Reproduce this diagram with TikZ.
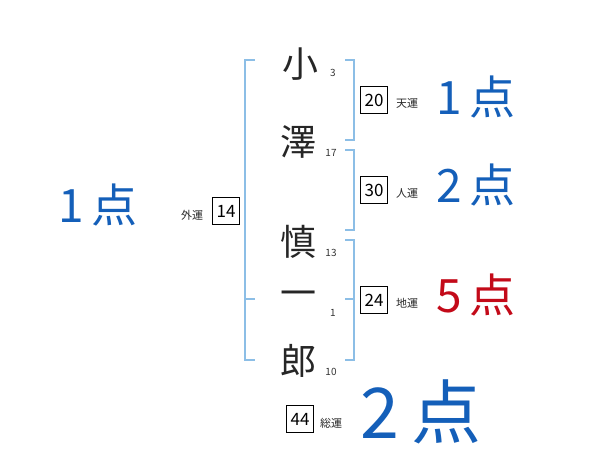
\documentclass[tikz,border=0pt]{standalone}
\usepackage{fontspec}
\newfontfamily\jp{Noto Sans CJK JP}
\definecolor{tenblue}{RGB}{20,95,185}
\definecolor{tenred}{RGB}{195,10,25}
\definecolor{kakkoiro}{RGB}{140,190,230}

\begin{document}
\begin{tikzpicture}[x=1pt,y=-1pt,
  moji/.style={font=\jp\fontsize{36}{36}\selectfont,text=black!85,inner sep=0pt},
  kaku/.style={font=\jp\fontsize{10}{10}\selectfont,text=black!80,inner sep=0pt},
  unbox/.style={draw,line width=0.8pt,font=\jp\fontsize{17}{17}\selectfont,minimum size=27pt,inner sep=0pt},
  unmei/.style={font=\jp\fontsize{11}{11}\selectfont,text=black!85,inner sep=0pt},
  ten/.style={font=\jp\fontsize{46}{46}\selectfont,text=tenblue,inner sep=0pt},
  kakko/.style={kakkoiro,line width=1.5pt}]
  \useasboundingbox (0,0) rectangle (600,470);

  %名前
  \node[moji] (c1) at (300,64) {小};
  \node[moji] (c2) at (298,142) {澤};
  \node[moji] (c3) at (298,242) {慎};
  \node[moji] (c4) at (298,299) {一};
  \node[moji] (c5) at (298,361) {郎};

  %画数
  \node[kaku] (k1) at (333,73) {3};
  \node[kaku] (k2) at (331,153) {17};
  \node[kaku] (k3) at (331,253) {13};
  \node[kaku] (k4) at (333,313) {1};
  \node[kaku] (k5) at (331,372) {10};

  %括弧(外運)
  \draw[kakko] (255,60) -- (245,60) -- (245,360) -- (255,360);
  \draw[kakko] (245,299) -- (255,299);

  %括弧(天運・人運・地運)
  \draw[kakko] (345,60) -- (354,60) -- (354,140) -- (345,140);
  \draw[kakko] (345,150) -- (354,150) -- (354,230) -- (345,230);
  \draw[kakko] (345,240) -- (354,240) -- (354,360) -- (345,360);
  \draw[kakko] (345,299) -- (354,299);

  %運の数
  \node[unbox] (ten) at (374,100) {20};
  \node[unmei] at (407,103) {天運};
  \node[unbox] (jin) at (374,190) {30};
  \node[unmei] at (407,193) {人運};
  \node[unbox] (chi) at (374,300) {24};
  \node[unmei] at (407,303) {地運};
  \node[unbox] (gai) at (226,211) {14};
  \node[unmei] at (192,215) {外運};
  \node[unbox] (sou) at (300,419) {44};
  \node[unmei] at (331,423) {総運};

  %点数
  \node[ten] (p1) at (476,97) {1\,点};
  \node[ten] (p2) at (476,185) {2\,点};
  \node[ten,text=tenred] (p3) at (476,295) {5\,点};
  \node[ten] (p4) at (98,205) {1\,点};
  \node[ten,font=\jp\fontsize{70}{70}\selectfont] (p5) at (421,412) {2\,点};
\end{tikzpicture}
\end{document}
